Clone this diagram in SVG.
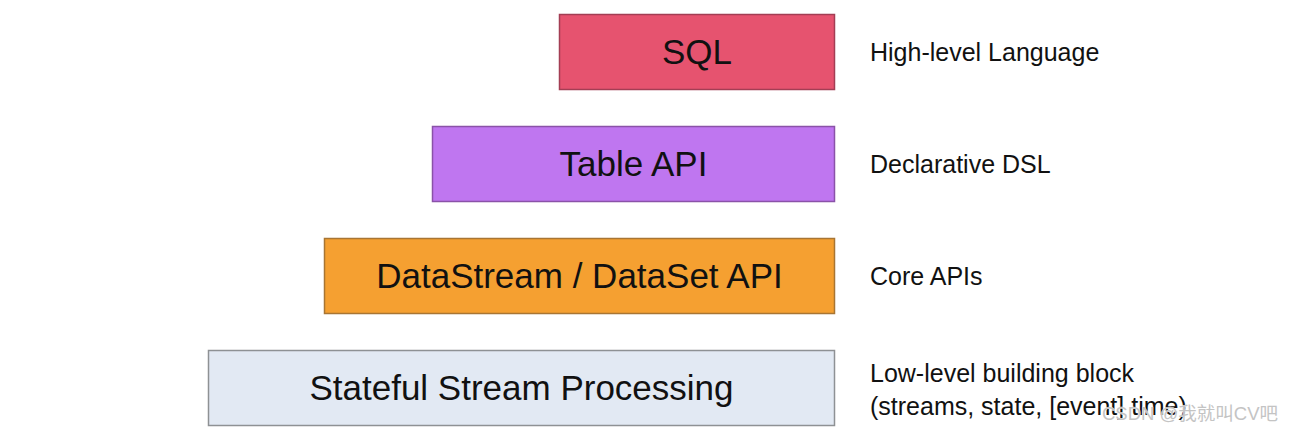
<svg xmlns="http://www.w3.org/2000/svg" width="1292" height="434" viewBox="0 0 1292 434">
<style>
.box{stroke-width:1.5}
.lbl{font-family:"Liberation Sans",Arial,sans-serif;font-size:35px;fill:#111;text-anchor:middle}
.desc{font-family:"Liberation Sans",Arial,sans-serif;font-size:25px;fill:#111}
.wm{font-family:"Liberation Sans","Noto Sans CJK SC",sans-serif;font-size:18.5px;fill:#c4c4c4;stroke:#ffffff;stroke-width:0.6;paint-order:stroke}
</style>
<rect width="1292" height="434" fill="#ffffff"/>
<g id="sql">
<rect class="box" x="559.5" y="14.5" width="275" height="75" fill="#e6536f" stroke="#a33e54"/>
<text class="lbl" x="697" y="64">SQL</text>
</g>
<g id="table-api">
<rect class="box" x="432.5" y="126.5" width="402" height="75" fill="#bf76f0" stroke="#8a52a8"/>
<text class="lbl" x="633.5" y="176">Table API</text>
</g>
<g id="datastream">
<rect class="box" x="324.5" y="238.5" width="510" height="75" fill="#f5a031" stroke="#a87533"/>
<text class="lbl" x="579.5" y="288">DataStream / DataSet API</text>
</g>
<g id="stateful">
<rect class="box" x="208.5" y="350.5" width="626" height="75" fill="#e2e9f3" stroke="#8e9194"/>
<text class="lbl" x="521.5" y="400">Stateful Stream Processing</text>
</g>
<g id="descriptions">
<text class="desc" x="870" y="61">High-level Language</text>
<text class="desc" x="870" y="173">Declarative DSL</text>
<text class="desc" x="870" y="285">Core APIs</text>
<text class="desc" x="870" y="382">Low-level building block</text>
<text class="desc" x="870" y="415">(streams, state, [event] time)</text>
</g>
<g id="connectors"></g>
<text class="wm" x="1102" y="420">CSDN @我就叫CV吧</text>
</svg>
